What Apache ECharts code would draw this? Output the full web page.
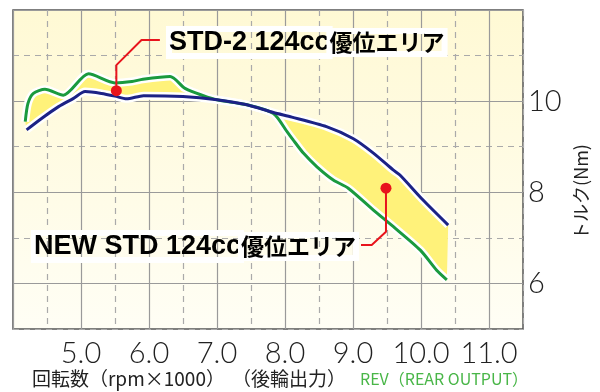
<!DOCTYPE html>
<html><head><meta charset="utf-8">
<script src="https://cdn.jsdelivr.net/npm/echarts@6/dist/echarts.min.js"></script>
<style>html,body{margin:0;padding:0;background:#fff}#c{width:600px;height:392px}</style>
</head><body><div id="c"></div>
<script>
// STD-2 (green)
const rpmGreen = [4.18, 4.22, 4.30, 4.47, 4.74, 5.11, 5.50, 5.75, 5.91, 6.31, 6.53, 6.80, 7.00, 7.44, 7.83, 8.03, 8.12, 8.27, 8.47, 8.71, 8.93, 9.30, 9.59, 9.99, 10.23, 10.38];
const torqueGreen = [9.55, 9.95, 10.17, 10.26, 10.13, 10.60, 10.40, 10.43, 10.48, 10.54, 10.28, 10.12, 10.03, 9.92, 9.73, 9.33, 9.15, 8.86, 8.56, 8.27, 8.09, 7.61, 7.25, 6.73, 6.29, 6.08];
// NEW STD (blue)
const rpmBlue = [4.20, 4.42, 4.67, 4.89, 5.06, 5.30, 5.50, 5.67, 5.92, 6.50, 7.00, 7.44, 7.83, 8.10, 8.61, 9.00, 9.30, 9.59, 9.69, 10.03, 10.40];
const torqueBlue = [9.37, 9.62, 9.88, 10.06, 10.21, 10.17, 10.11, 10.05, 10.12, 10.10, 10.03, 9.92, 9.75, 9.65, 9.44, 9.18, 8.86, 8.49, 8.38, 7.83, 7.28];
// callouts (data coordinates)
const callout1 = [[5.52, 10.23], [5.52, 10.79], [5.89, 11.34], [6.16, 11.34]];
const callout2 = [[9.485, 8.09], [9.485, 7.135], [9.275, 6.843], [9.118, 6.843]];
const xLabels = [5, 6, 7, 8, 9, 10, 11];
const yLabels = [6, 8, 10];
const label1 = ['STD-2 124cc', '優位エリア'];
const label2 = ['NEW STD 124cc', '優位エリア'];

const pairs = (xs, ys) => xs.map((x, i) => [x, ys[i]]);
const green = pairs(rpmGreen, torqueGreen);
const blue = pairs(rpmBlue, torqueBlue);

const chart = echarts.init(document.getElementById('c'), null, {renderer: 'canvas'});
const numFont = 'Lato, "Liberation Sans", sans-serif';
const jpFont = '"Noto Sans CJK JP", sans-serif';

const baseX = {type: 'value', min: 4, max: 11.5, interval: 0.5, position: 'bottom',
  axisLine: {show: false}, axisTick: {show: false}};
const baseY = {type: 'value', min: 5, max: 12, interval: 1, position: 'right',
  axisLine: {show: false}, axisTick: {show: false}};

const richLabel = {
  a: {fontFamily: '"Liberation Sans", Arial, sans-serif', fontWeight: 'bold', fontSize: 27, color: '#1a1a1a',
      textBorderColor: '#fff', textBorderWidth: 6},
  b: {fontFamily: jpFont, fontWeight: 'bold', fontSize: 23, color: '#1a1a1a',
      textBorderColor: '#fff', textBorderWidth: 6}
};

const option = {
  animation: false,
  grid: {left: 13, top: 10, right: 77, bottom: 63, show: true, borderColor: '#555', borderWidth: 1.5,
    backgroundColor: new echarts.graphic.LinearGradient(0, 0, 0, 1, [
      {offset: 0, color: '#fff9d4'}, {offset: 1, color: '#fffef5'}])},
  xAxis: [
    Object.assign({}, baseX, {
      axisLabel: {interval: 0, margin: 10, fontSize: 29, color: '#222', fontFamily: numFont, fontWeight: 300,
        formatter: v => xLabels.includes(v) ? v.toFixed(1) : ''},
      splitLine: {show: true, lineStyle: {color: ['#9a9a9a', 'transparent'], width: 1.2}}}),
    Object.assign({}, baseX, {
      axisLabel: {show: false},
      splitLine: {show: true, lineStyle: {color: ['transparent', '#aaa'], width: 1.2, type: [6, 5]}}})
  ],
  yAxis: [
    Object.assign({}, baseY, {
      axisLabel: {margin: 5, fontSize: 29, color: '#222', fontFamily: numFont, fontWeight: 300,
        formatter: v => yLabels.includes(v) ? String(v) : ''},
      splitLine: {show: true, lineStyle: {color: ['transparent', '#9a9a9a'], width: 1.2}}}),
    Object.assign({}, baseY, {
      axisLabel: {show: false},
      splitLine: {show: true, lineStyle: {color: ['#aaa', 'transparent'], width: 1.2, type: [6, 5]}}})
  ],
  series: [
    {type: 'custom', silent: true, z: 1, data: [[5, 10]],
      renderItem: (params, api) => {
        const pts = green.map(p => api.coord(p));
        for (let i = blue.length - 1; i >= 0; i--) pts.push(api.coord(blue[i]));
        return {type: 'polygon', shape: {points: pts}, style: {fill: '#fff27a'}};
      }},
    {type: 'line', data: green, smooth: 0.25, symbol: 'none', silent: true, z: 2,
      lineStyle: {color: '#ffffff', width: 8}},
    {type: 'line', data: blue, smooth: 0.25, symbol: 'none', silent: true, z: 2,
      lineStyle: {color: '#ffffff', width: 8}},
    {type: 'line', data: green, smooth: 0.25, symbol: 'none', silent: true, z: 3,
      lineStyle: {color: '#1a9a3e', width: 3}},
    {type: 'line', data: blue, smooth: 0.25, symbol: 'none', silent: true, z: 4,
      lineStyle: {color: '#1c2285', width: 3}},
    {type: 'line', data: callout1, silent: true, z: 5, showSymbol: true,
      symbol: 'circle', symbolSize: (v, p) => p.dataIndex === 0 ? 11 : 0,
      itemStyle: {color: '#e8141c'}, lineStyle: {color: '#e8141c', width: 2}},
    {type: 'line', data: callout2, silent: true, z: 5, showSymbol: true,
      symbol: 'circle', symbolSize: (v, p) => p.dataIndex === 0 ? 11 : 0,
      itemStyle: {color: '#e8141c'}, lineStyle: {color: '#e8141c', width: 2}}
  ],
  graphic: [
    {type: 'text', left: 166, top: 26, z: 10, style: {text: '{a|' + label1[0] + '}{b|' + label1[1] + '}', rich: richLabel}},
    {type: 'text', right: 241, top: 230, z: 10, style: {text: '{a|' + label2[0] + '}{b|' + label2[1] + '}', rich: richLabel}},
    {type: 'text', x: 581, y: 192, rotation: Math.PI / 2, z: 10,
      style: {text: 'トルク(Nm)', font: '18px ' + jpFont, fill: '#222', align: 'center', verticalAlign: 'middle'}},
    {type: 'text', left: 32, top: 369, style: {text: '回転数（rpm×1000）', font: '19px ' + jpFont, fill: '#222'}},
    {type: 'text', left: 232, top: 369, style: {text: '（後輪出力）', font: '19px ' + jpFont, fill: '#222'}},
    {type: 'text', left: 360, top: 371, style: {text: 'REV（REAR OUTPUT）', font: '16px ' + jpFont, fill: '#49b648'}}
  ]
};
chart.setOption(option);
</script>
</body></html>
